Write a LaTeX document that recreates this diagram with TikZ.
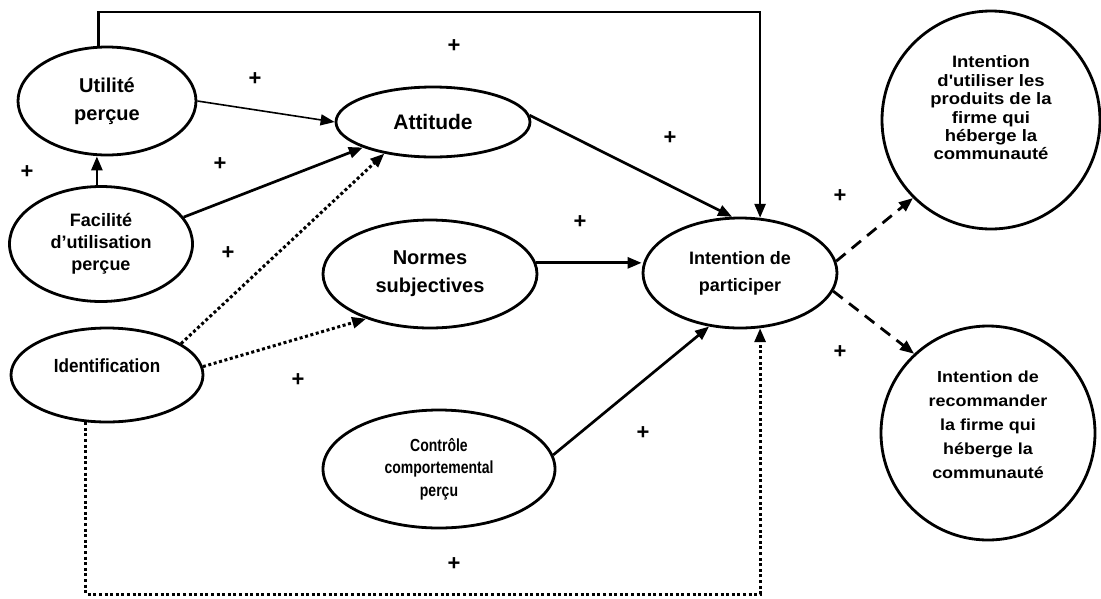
\documentclass[tikz,border=0pt]{standalone}
\usepackage{fontspec}
\setmainfont{Liberation Sans}
\newfontfamily\narrowsans{Liberation Sans}[FakeStretch=0.9]
\newfontfamily\condsans{Liberation Sans}[FakeStretch=0.8]
\newfontfamily\widesans{Liberation Sans}[FakeStretch=1.12]
\usetikzlibrary{arrows.meta,shapes.geometric}

\begin{document}
\begin{tikzpicture}[
  x=1pt, y=-1pt,
  construct/.style={draw, ellipse, line width=2.8pt, inner sep=0pt, align=center},
  outcome/.style={draw, circle, line width=2.8pt, inner sep=0pt},
  tiptri/.style={-{Triangle[length=14pt,width=11pt]}},
  solidarr/.style={tiptri, line width=2.7pt},
  thinarr/.style={tiptri, line width=1.6pt},
  dotarr/.style={tiptri, line width=3pt, dash pattern=on 3pt off 2.6pt},
  dasharr/.style={tiptri, line width=2.8pt, dash pattern=on 12pt off 8pt},
  sign/.style={font=\fontsize{22}{22}\selectfont\bfseries, inner sep=0pt},
]
\useasboundingbox (0,0) rectangle (1101,598);

% constructs of the model
\node[construct, minimum width=178pt, minimum height=108pt,
      font=\fontsize{20}{28}\selectfont\bfseries] (util) at (107,101) {Utilité\\perçue};
\node[construct, minimum width=183pt, minimum height=115pt,
      font=\fontsize{18}{22}\selectfont\bfseries] (fac) at (101,244) {Facilité\\d'utilisation\\perçue};
\node[construct, minimum width=192pt, minimum height=94pt] (ident) at (107,375) {};
\node[font=\narrowsans\fontsize{19}{22}\selectfont\bfseries, inner sep=0pt] (identtext) at (107,366) {Identification};
\node[construct, minimum width=194pt, minimum height=70pt,
      font=\fontsize{21}{26}\selectfont\bfseries] (att) at (433,122) {Attitude};
\node[construct, minimum width=214pt, minimum height=108pt,
      font=\fontsize{20}{28}\selectfont\bfseries] (norm) at (430,274) {Normes\\subjectives};
\node[construct, minimum width=232pt, minimum height=118pt,
      font=\condsans\fontsize{17.5}{22.5}\selectfont\bfseries] (ctrl) at (439,469) {Contrôle\\comportemental\\perçu};
\node[construct, minimum width=194pt, minimum height=110pt,
      font=\fontsize{18}{27}\selectfont\bfseries] (intent) at (740,273) {Intention de\\participer};

% outcomes
\node[outcome, minimum size=218pt] (use) at (991,120) {};
\node[font=\widesans\fontsize{16.5}{18.4}\selectfont\bfseries, align=center, inner sep=0pt] (usetext) at (991,108)
  {Intention\\d'utiliser les\\produits de la\\firme qui\\héberge la\\communauté};
\node[outcome, minimum size=214pt] (rec) at (988,433) {};
\node[font=\widesans\fontsize{16}{24}\selectfont\bfseries, align=center, inner sep=0pt] (rectext) at (988,425)
  {Intention de\\recommander\\la firme qui\\héberge la\\communauté};

% rails of the two long links
\coordinate (toprail) at (0,12);
\coordinate (botrail) at (0,594);

% links
\draw[solidarr] (util.99) -- (util.99 |- toprail) -| (intent.70);
\draw[thinarr] (util.east) -- (att.west);
\draw[solidarr] (fac.94) -- (fac.94 |- util.south);
\draw[solidarr] (fac.18) -- (att.200);
\draw[dotarr] (ident.23) -- (att.213);
\draw[dotarr] (ident.5) -- (norm.215);
\draw[dotarr] (ident.246) -- (ident.246 |- botrail) -| (intent.290);
\draw[solidarr] (att.4) -- (intent.98);
\draw[solidarr] (norm.6) -- (norm.6 -| intent.west);
\draw[solidarr] (ctrl.7) -- (intent.240);
\draw[dasharr] (intent.7) -- (use.225);
\draw[dasharr] (intent.-11) -- (rec.133);

% signs of the effects
\node[sign] (s1) at (255,79) {+};
\node[sign] (s2) at (454,46) {+};
\node[sign] (s3) at (27,172) {+};
\node[sign] (s4) at (220,164) {+};
\node[sign] (s5) at (228,253) {+};
\node[sign] (s6) at (670,138) {+};
\node[sign] (s7) at (580,222) {+};
\node[sign] (s8) at (840,196) {+};
\node[sign] (s9) at (840,352) {+};
\node[sign] (s10) at (298,380) {+};
\node[sign] (s11) at (643,433) {+};
\node[sign] (s12) at (454,564) {+};
\end{tikzpicture}
\end{document}
